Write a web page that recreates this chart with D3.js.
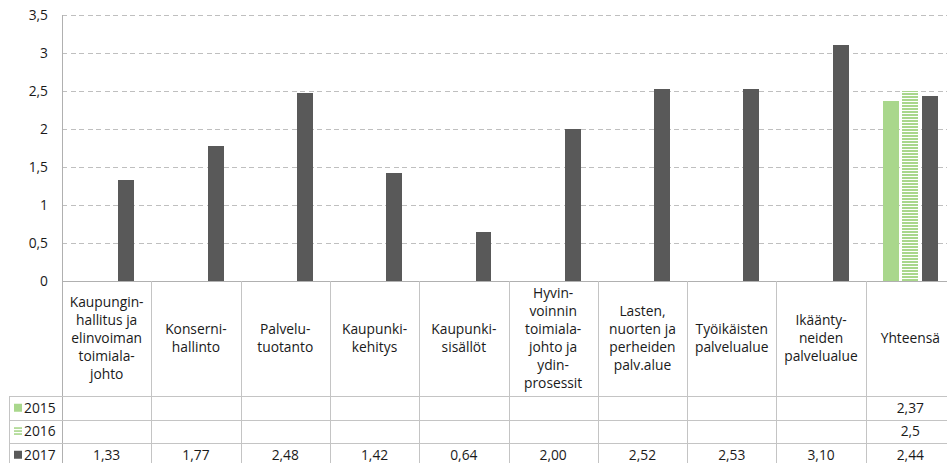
<!DOCTYPE html>
<html>
<head>
<meta charset="utf-8">
<script src="https://cdn.jsdelivr.net/npm/d3@7"></script>
<style>
  html, body { margin: 0; padding: 0; background: #fff; }
  svg { display: block; font-family: "Open Sans", "Noto Sans", sans-serif; }
</style>
</head>
<body>
<svg id="chart" width="947" height="463"></svg>
<script>
// Toimialojen tunnusluvut 2015–2017
const categories = [
  ["Kaupungin-", "hallitus ja", "elinvoiman", "toimiala-", "johto"],
  ["Konserni-", "hallinto"],
  ["Palvelu-", "tuotanto"],
  ["Kaupunki-", "kehitys"],
  ["Kaupunki-", "sisällöt"],
  ["Hyvin-", "voinnin", "toimiala-", "johto ja", "ydin-", "prosessit"],
  ["Lasten,", "nuorten ja", "perheiden", "palv.alue"],
  ["Työikäisten", "palvelualue"],
  ["Ikäänty-", "neiden", "palvelualue"],
  ["Yhteensä"]
];
const seriesNames = ["2015", "2016", "2017"];
const values2015 = [null, null, null, null, null, null, null, null, null, 2.37];
const values2016 = [null, null, null, null, null, null, null, null, null, 2.5];
const values2017 = [1.33, 1.77, 2.48, 1.42, 0.64, 2.00, 2.52, 2.53, 3.10, 2.44];
const yTicks = [0, 0.5, 1, 1.5, 2, 2.5, 3, 3.5];

const seriesValues = [values2015, values2016, values2017];
const green = "#a9d78c";
const dark = "#595959";
const gridColor = "#bfbfbf";
const lineColor = "#c4c4c4";
const textColor = "#1a1a1a";
const fontSize = "13.8px";

const svg = d3.select("#chart");
const defs = svg.append("defs");
const stripe = defs.append("pattern")
  .attr("id", "stripes")
  .attr("patternUnits", "userSpaceOnUse")
  .attr("width", 6).attr("height", 3);
stripe.append("rect").attr("width", 6).attr("height", 3).attr("fill", "#fff");
stripe.append("rect").attr("width", 6).attr("height", 2).attr("fill", green);

const plotLeft = 62, plotRight = 955, plotTop = 15, base = 281;
const headerBottom = 396, rowH = 23.5, tableLeft = 9;

const x0 = d3.scaleBand().domain(d3.range(categories.length)).range([plotLeft, plotRight]).padding(0);
const step = x0.bandwidth();
const x1 = d3.scalePoint().domain(seriesNames).range([-0.22 * step, 0.22 * step]);
const barW = 0.179 * step;
const y = d3.scaleLinear().domain([0, 3.5]).range([base, plotTop]);

// gridlines and value axis
const yAxis = d3.axisLeft(y).tickValues(yTicks)
  .tickFormat(d => String(d).replace(".", ","))
  .tickSize(-(plotRight - plotLeft)).tickPadding(14);
const gy = svg.append("g").attr("transform", `translate(${plotLeft},0)`).call(yAxis);
gy.select(".domain").remove();
gy.selectAll(".tick line")
  .attr("stroke", gridColor).attr("stroke-dasharray", "5,3.5")
  .attr("shape-rendering", "crispEdges")
  .filter(d => d === 0).remove();
gy.selectAll(".tick text")
  .attr("fill", textColor).style("font-size", fontSize)
  .style("font-family", "'Open Sans', 'Noto Sans', sans-serif");

// bars
const fills = { "2015": green, "2016": "url(#stripes)", "2017": dark };
seriesNames.forEach((s, si) => {
  const data = seriesValues[si].map((v, i) => ({ i, v })).filter(d => d.v != null);
  svg.append("g").selectAll("rect").data(data).join("rect")
    .attr("x", d => x0(d.i) + step / 2 + x1(s) - barW / 2)
    .attr("width", barW)
    .attr("y", d => y(d.v))
    .attr("height", d => y(0) - y(d.v))
    .attr("fill", fills[s])
    .attr("shape-rendering", "crispEdges");
});

// axes frame
svg.append("line").attr("x1", plotLeft + 0.5).attr("x2", plotLeft + 0.5).attr("y1", plotTop).attr("y2", 463)
  .attr("stroke", "#b0b0b0");
svg.append("line").attr("x1", plotLeft).attr("x2", plotRight).attr("y1", base + 0.5).attr("y2", base + 0.5)
  .attr("stroke", "#b0b0b0");

// data table
const table = svg.append("g");
d3.range(1, categories.length).forEach(i => {
  table.append("line")
    .attr("x1", Math.round(x0(i)) + 0.5).attr("x2", Math.round(x0(i)) + 0.5)
    .attr("y1", base).attr("y2", 463)
    .attr("stroke", lineColor);
});
table.append("line").attr("x1", tableLeft + 0.5).attr("x2", tableLeft + 0.5)
  .attr("y1", headerBottom).attr("y2", 463).attr("stroke", lineColor);
seriesNames.forEach((s, si) => {
  const yy = Math.round(headerBottom + si * rowH) + 0.5;
  table.append("line").attr("x1", tableLeft).attr("x2", plotRight)
    .attr("y1", yy).attr("y2", yy).attr("stroke", lineColor);
});

// category headers
const lineH = 18;
categories.forEach((lines, i) => {
  const cx = x0(i) + step / 2;
  const cy = (base + headerBottom) / 2;
  const t = table.append("text")
    .attr("text-anchor", "middle")
    .attr("fill", textColor).style("font-size", fontSize);
  lines.forEach((ln, k) => {
    t.append("tspan").attr("x", cx)
      .attr("y", cy + (k - (lines.length - 1) / 2) * lineH)
      .attr("dy", "0.35em").text(ln);
  });
});

// row labels with legend keys and values
const fmt = [
  v => d3.format(".2f")(v).replace(".", ","),
  v => String(v).replace(".", ","),
  v => d3.format(".2f")(v).replace(".", ",")
];
seriesNames.forEach((s, si) => {
  const cy = headerBottom + si * rowH + rowH / 2;
  if (s === "2016") {
    [0, 3, 6].forEach(o => table.append("rect")
      .attr("x", 14).attr("y", cy - 4 + o).attr("width", 8).attr("height", 1.6)
      .attr("fill", green));
  } else {
    table.append("rect").attr("x", 14).attr("y", cy - 4).attr("width", 8).attr("height", 8)
      .attr("fill", s === "2015" ? green : dark);
  }
  table.append("text").attr("x", 24).attr("y", cy).attr("dy", "0.35em")
    .attr("fill", textColor).style("font-size", fontSize).text(s);
  seriesValues[si].forEach((v, i) => {
    if (v == null) return;
    table.append("text").attr("x", x0(i) + step / 2).attr("y", cy).attr("dy", "0.35em")
      .attr("text-anchor", "middle").attr("fill", textColor).style("font-size", fontSize)
      .text(fmt[si](v));
  });
});
</script>
</body>
</html>
